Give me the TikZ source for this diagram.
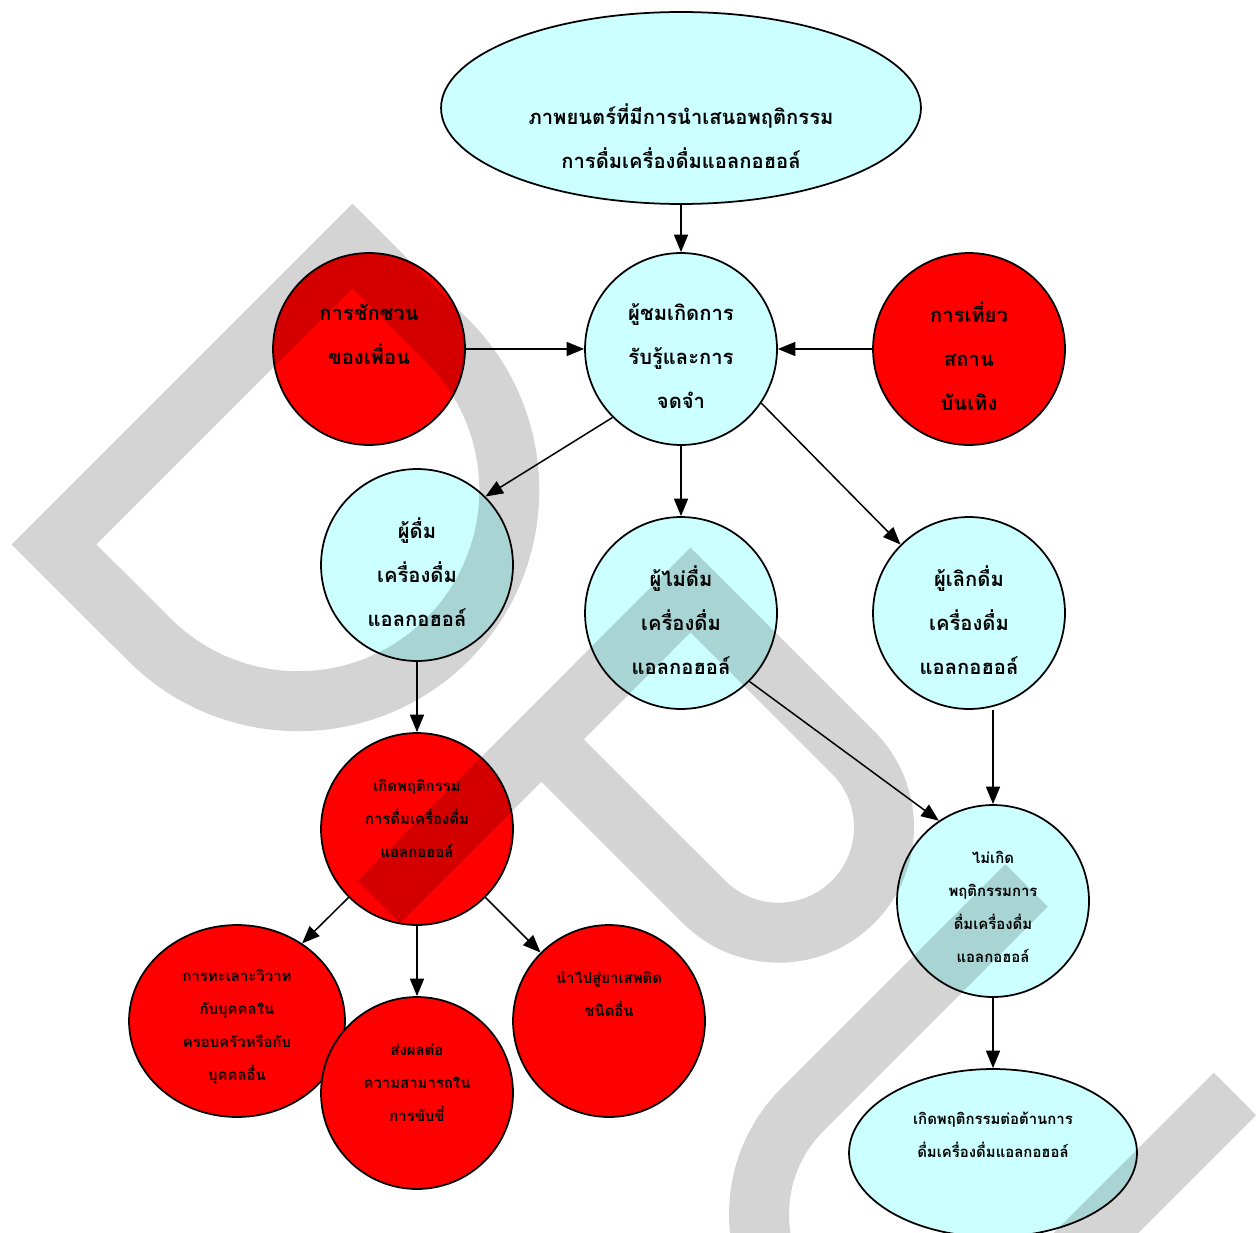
\documentclass[tikz,border=0pt]{standalone}
\usepackage{fontspec}
\newfontfamily\thaifont[Script=Thai]{Loma}
\usetikzlibrary{shapes.geometric,arrows.meta}
\definecolor{skyfill}{HTML}{CCFFFF}
\definecolor{hotred}{HTML}{FF0000}
\tikzset{
  bubble/.style={circle, draw, line width=1pt, minimum size=3.84cm, inner sep=0pt},
  oval/.style={ellipse, draw, line width=1pt, inner sep=0pt},
  cool/.style={fill=skyfill},
  hot/.style={fill=hotred},
  lbig/.style={align=center, font=\thaifont\bfseries\fontsize{11.5}{25}\selectfont},
  lsmall/.style={align=center, font=\thaifont\bfseries\fontsize{8.5}{18.8}\selectfont},
  link/.style={line width=0.85pt, -{Triangle[length=10pt,width=8pt]}},
  wm/.style={line width=1.2cm, black, opacity=0.17, line join=miter, line cap=butt}
}
\begin{document}
\begin{tikzpicture}[x=0.02cm, y=-0.02cm]
    \useasboundingbox (0,0) rectangle (1257,1233);

    % Shapes
    \node[oval, cool, minimum width=9.6cm, minimum height=3.84cm] (film) at (681,108) {};
    \node[bubble, cool] (viewer) at (681,349) {};
    \node[bubble, hot] (friend) at (369,349) {};
    \node[bubble, hot] (venue) at (969,349) {};
    \node[bubble, cool] (drinker) at (417,565) {};
    \node[bubble, cool] (nondrinker) at (681,613) {};
    \node[bubble, cool] (quitter) at (969,613) {};
    \node[bubble, hot] (behav) at (417,829) {};
    \node[bubble, cool] (nobehav) at (993,901) {};
    \node[oval, hot, minimum width=4.32cm, minimum height=3.84cm] (quarrel) at (237,1021) {};
    \node[bubble, hot] (impair) at (417,1093) {};
    \node[bubble, hot] (drug) at (609,1021) {};
    \node[oval, cool, minimum width=5.76cm, minimum height=3.36cm] (resist) at (993,1153) {};

    % Texts
    \node[lbig] (film-t) at (681,136.5) {ภาพยนตร์ที่มีการนำเสนอพฤติกรรม\\การดื่มเครื่องดื่มแอลกอฮอล์};
    \node[lbig] (viewer-t) at (681,356) {ผู้ชมเกิดการ\\รับรู้และการ\\จดจำ};
    \node[lbig] (friend-t) at (369,334) {การชักชวน\\ของเพื่อน};
    \node[lbig] (venue-t) at (969,356) {การเที่ยว\\สถาน\\บันเทิง};
    \node[lbig] (drinker-t) at (417,572) {ผู้ดื่ม\\เครื่องดื่ม\\แอลกอฮอล์};
    \node[lbig] (nondrinker-t) at (681,620) {ผู้ไม่ดื่ม\\เครื่องดื่ม\\แอลกอฮอล์};
    \node[lbig] (quitter-t) at (969,620) {ผู้เลิกดื่ม\\เครื่องดื่ม\\แอลกอฮอล์};
    \node[lsmall] (behav-t) at (417,818) {เกิดพฤติกรรม\\การดื่มเครื่องดื่ม\\แอลกอฮอล์};
    \node[lsmall] (nobehav-t) at (993,907) {ไม่เกิด\\พฤติกรรมการ\\ดื่มเครื่องดื่ม\\แอลกอฮอล์};
    \node[lsmall] (quarrel-t) at (237,1027) {การทะเลาะวิวาท\\กับบุคคลใน\\ครอบครัวหรือกับ\\บุคคลอื่น};
    \node[lsmall] (impair-t) at (417,1083) {ส่งผลต่อ\\ความสามารถใน\\การขับขี่};
    \node[lsmall] (drug-t) at (609,993.5) {นำไปสู่ยาเสพติด\\ชนิดอื่น};
    \node[lsmall] (resist-t) at (993,1134.5) {เกิดพฤติกรรมต่อต้านการ\\ดื่มเครื่องดื่มแอลกอฮอล์};

    % Arrows
    \draw[link] (film.south) -- (viewer.north);
    \draw[link] (friend.east) -- (viewer.west);
    \draw[link] (venue.west) -- (viewer.east);
    \draw[link] (viewer.225) -- (drinker.45);
    \draw[link] (viewer.south) -- (nondrinker.north);
    \draw[link] (viewer.-34) -- (quitter.135);
    \draw[link] (nondrinker.-45) -- (nobehav.124);
    \draw[link] (nobehav.north |- quitter.south) -- (nobehav.north);
    \draw[link] (drinker.south) -- (behav.north);
    \draw[link] (behav.225) -- (quarrel.50);
    \draw[link] (behav.south) -- (impair.north);
    \draw[link] (behav.-45) -- (drug.135);
    \draw[link] (nobehav.south) -- (resist.north);

    % Watermark
    \begin{scope}
    \clip (0,0) rectangle (1257,1233);
    \draw[wm] (54,544.5) -- (352.5,246) -- (447.5,341)
        arc[start angle=-45, end angle=135, radius=211] -- cycle;
    \draw[wm] (379,902) -- (690.5,590) -- (853.1,752.6)
        arc[start angle=-45, end angle=135, radius=105.5] -- (541,739);
    \draw[wm] (1026.5,885.5) -- (802.2,1109.8)
        arc[start angle=-135, end angle=-315, radius=147.4] -- (1235,1094);
    \end{scope}
\end{tikzpicture}
\end{document}
